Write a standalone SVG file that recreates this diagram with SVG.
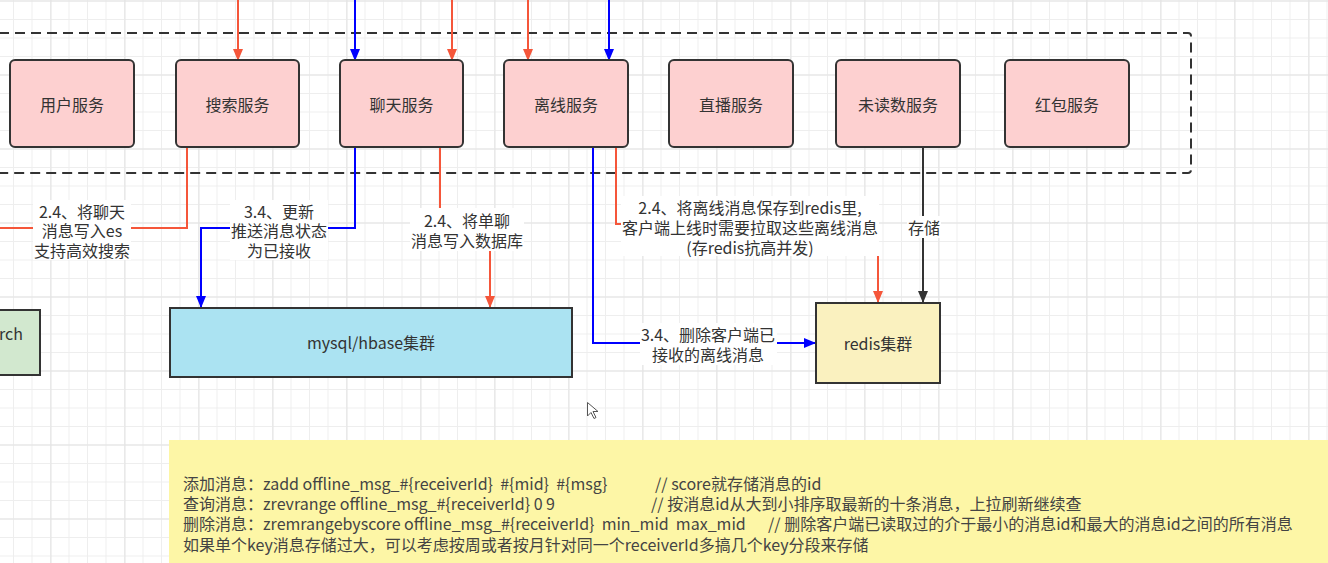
<svg xmlns="http://www.w3.org/2000/svg" width="1328" height="563" viewBox="0 0 1328 563">
<style>
  .t { font-family: "Noto Sans CJK SC", "Noto Sans", sans-serif; font-size: 16px; fill: #333; dominant-baseline: central; }
  .c { text-anchor: middle; }
  .box { stroke: #333; stroke-width: 2; }
  .svc { fill: #fdd0d0; }
  .lbl { fill: #fff; }
  .red { stroke: #f5563a; stroke-width: 2; fill: none; }
  .blue { stroke: #0000ff; stroke-width: 2; fill: none; }
  .blk { stroke: #333; stroke-width: 2; fill: none; }
  .note { font-family: "Noto Sans CJK SC", "Noto Sans", sans-serif; font-size: 16px; fill: #444; dominant-baseline: central; white-space: pre; }
</style>
<defs>
  <pattern id="gMinor" patternUnits="userSpaceOnUse" x="13" y="0.5" width="18.5" height="18.5">
    <path d="M0 0H18.5M0 0V18.5" stroke="#eeeeee" stroke-width="2" fill="none"/>
  </pattern>
  <pattern id="gMajor" patternUnits="userSpaceOnUse" x="50.5" y="0.5" width="74" height="74">
    <path d="M0 0H74M0 0V74" stroke="#e3e3e3" stroke-width="2" fill="none"/>
  </pattern>
  <marker id="aRed" viewBox="0 0 12 10" refX="11" refY="5" markerWidth="12" markerHeight="10" markerUnits="userSpaceOnUse" orient="auto">
    <path d="M0 0L12 5L0 10Z" fill="#f5563a"/>
  </marker>
  <marker id="aBlue" viewBox="0 0 12 10" refX="11" refY="5" markerWidth="12" markerHeight="10" markerUnits="userSpaceOnUse" orient="auto">
    <path d="M0 0L12 5L0 10Z" fill="#0000ff"/>
  </marker>
  <marker id="aBlk" viewBox="0 0 12 10" refX="11" refY="5" markerWidth="12" markerHeight="10" markerUnits="userSpaceOnUse" orient="auto">
    <path d="M0 0L12 5L0 10Z" fill="#333"/>
  </marker>
</defs>

<rect width="1328" height="563" fill="#fff"/>
<rect width="1328" height="563" fill="url(#gMinor)"/>
<rect width="1328" height="563" fill="url(#gMajor)"/>

<!-- container -->
<g id="container">
  <rect x="-20" y="33" width="1211" height="140" rx="3" fill="none" stroke="#333" stroke-width="2" stroke-dasharray="10 6"/>
</g>

<!-- connectors -->
<g id="connectors">
  <path class="red" d="M238 0V60" marker-end="url(#aRed)"/>
  <path class="blue" d="M355 0V60" marker-end="url(#aBlue)"/>
  <path class="red" d="M452 0V60" marker-end="url(#aRed)"/>
  <path class="red" d="M528 0V60" marker-end="url(#aRed)"/>
  <path class="blue" d="M609 0V60" marker-end="url(#aBlue)"/>
  <path class="red" d="M187 147V228H-20"/>
  <path class="blue" d="M355 147V228H201V307" marker-end="url(#aBlue)"/>
  <path class="red" d="M440 147V229H490V307" marker-end="url(#aRed)"/>
  <path class="blue" d="M593 147V343H815" marker-end="url(#aBlue)"/>
  <path class="red" d="M616 147V224H878V302" marker-end="url(#aRed)"/>
  <path class="blk" d="M923 147V302" marker-end="url(#aBlk)"/>

  <g id="label-es">
    <rect class="lbl" x="33" y="200" width="98" height="60"/>
    <text class="t c"><tspan x="82" y="210.5">2.4、将聊天</tspan><tspan x="82" y="230">消息写入es</tspan><tspan x="82" y="249.5">支持高效搜索</tspan></text>
  </g>
  <g id="label-update">
    <rect class="lbl" x="230" y="200" width="98" height="60"/>
    <text class="t c"><tspan x="279" y="210.5">3.4、更新</tspan><tspan x="279" y="230">推送消息状态</tspan><tspan x="279" y="249.5">为已接收</tspan></text>
  </g>
  <g id="label-db">
    <rect class="lbl" x="410" y="208" width="114" height="43"/>
    <text class="t c"><tspan x="467" y="219.5">2.4、将单聊</tspan><tspan x="467" y="240">消息写入数据库</tspan></text>
  </g>
  <g id="label-redis">
    <rect class="lbl" x="621" y="196" width="258" height="60"/>
    <text class="t c"><tspan x="750" y="207">2.4、将离线消息保存到redis里,</tspan><tspan x="750" y="227">客户端上线时需要拉取这些离线消息</tspan><tspan x="750" y="246.5">(存redis抗高并发)</tspan></text>
  </g>
  <g id="label-store">
    <rect class="lbl" x="907" y="216" width="34" height="22"/>
    <text class="t c" x="924" y="227">存储</text>
  </g>
  <g id="label-delete">
    <rect class="lbl" x="640" y="323" width="137" height="42"/>
    <text class="t c"><tspan x="708" y="333.5">3.4、删除客户端已</tspan><tspan x="708" y="353.5">接收的离线消息</tspan></text>
  </g>
</g>

<!-- services -->
<g id="svc-user"><rect class="box svc" x="10" y="60" width="124" height="87" rx="5"/><text class="t c" x="72" y="104">用户服务</text></g>
<g id="svc-search"><rect class="box svc" x="176" y="60" width="123" height="87" rx="5"/><text class="t c" x="237.5" y="104">搜索服务</text></g>
<g id="svc-chat"><rect class="box svc" x="340" y="60" width="123" height="87" rx="5"/><text class="t c" x="401.5" y="104">聊天服务</text></g>
<g id="svc-offline"><rect class="box svc" x="504" y="60" width="124" height="87" rx="5"/><text class="t c" x="566" y="104">离线服务</text></g>
<g id="svc-live"><rect class="box svc" x="669" y="60" width="124" height="87" rx="5"/><text class="t c" x="731" y="104">直播服务</text></g>
<g id="svc-unread"><rect class="box svc" x="836" y="60" width="124" height="87" rx="5"/><text class="t c" x="898" y="104">未读数服务</text></g>
<g id="svc-redpacket"><rect class="box svc" x="1005" y="60" width="124" height="87" rx="5"/><text class="t c" x="1067" y="104">红包服务</text></g>

<!-- storage -->
<g id="es"><rect class="box" x="-90" y="310" width="130" height="65" fill="#d2e8cf"/><text class="t" x="23" y="333" text-anchor="end">elasticsearch</text></g>
<g id="mysql"><rect class="box" x="170" y="308" width="402" height="69" fill="#abe3f2"/><text class="t c" x="371" y="342">mysql/hbase集群</text></g>
<g id="redis"><rect class="box" x="816" y="303" width="124" height="80" fill="#faf1bf"/><text class="t c" x="878" y="343">redis集群</text></g>

<!-- cursor -->
<path d="M587.5 402.5V416L591 412.5L594 418.5L596 417.5L593 411.5H598Z" fill="#fff" stroke="#555" stroke-width="1"/>

<!-- note -->
<g id="note">
  <rect x="169" y="440" width="1170" height="130" fill="#fdf6a6"/>
  <text class="note"><tspan x="183" y="483">添加消息：zadd offline_msg_#{receiverId}  #{mid}  #{msg}</tspan><tspan x="655" y="483">// score就存储消息的id</tspan><tspan x="183" y="503">查询消息：zrevrange offline_msg_#{receiverId} 0 9</tspan><tspan x="651" y="503">// 按消息id从大到小排序取最新的十条消息，上拉刷新继续查</tspan><tspan x="183" y="523">删除消息：zremrangebyscore offline_msg_#{receiverId}  min_mid  max_mid</tspan><tspan x="768" y="523">// 删除客户端已读取过的介于最小的消息id和最大的消息id之间的所有消息</tspan><tspan x="183" y="544">如果单个key消息存储过大，可以考虑按周或者按月针对同一个receiverId多搞几个key分段来存储</tspan></text>
</g>
</svg>
